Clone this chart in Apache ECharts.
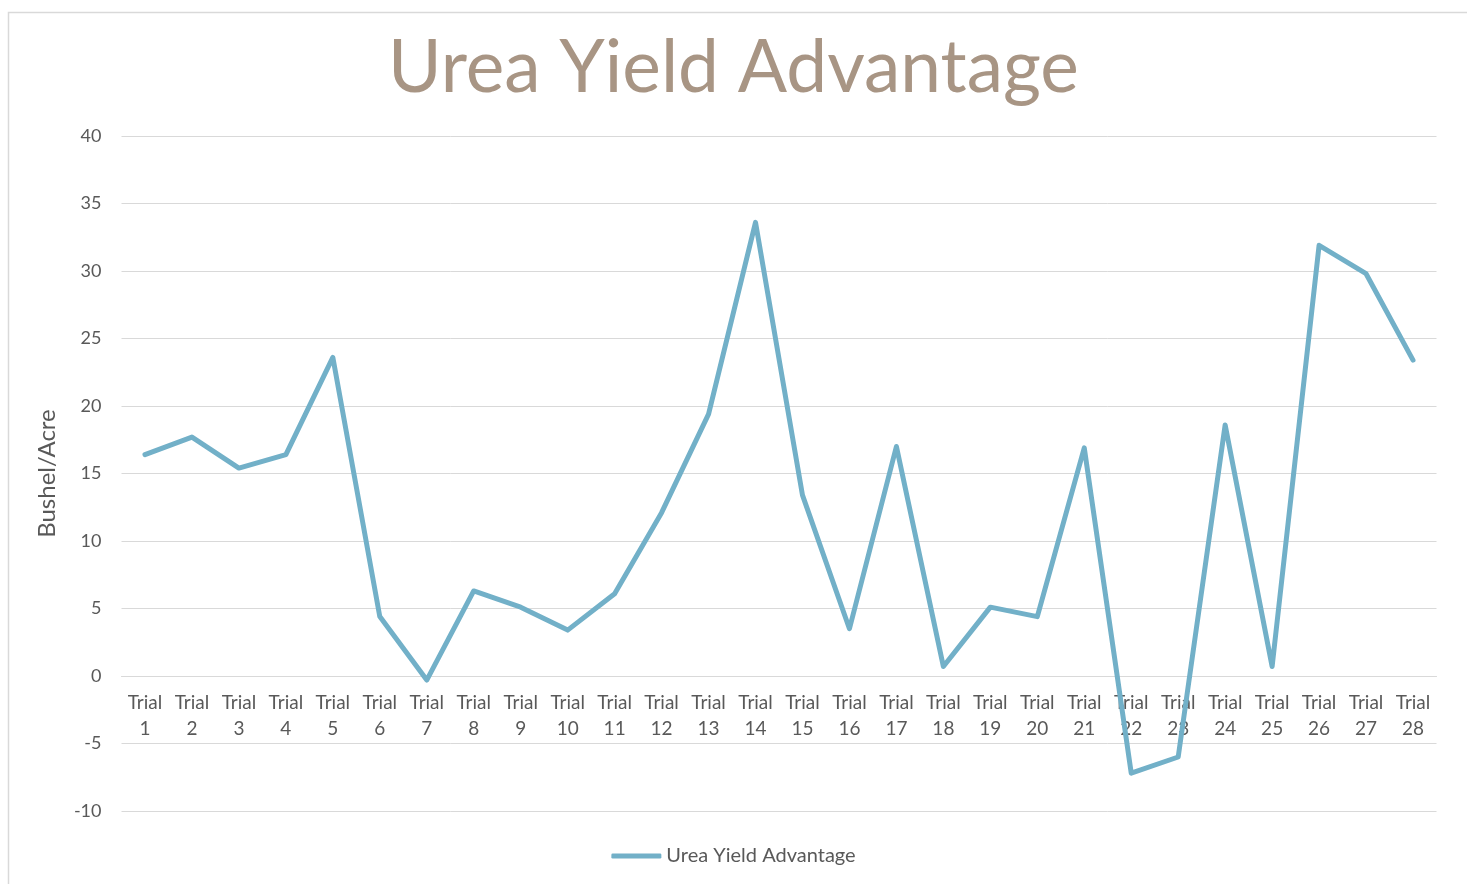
<!DOCTYPE html>
<html>
<head>
<meta charset="utf-8">
<script src="https://cdn.jsdelivr.net/npm/echarts@6/dist/echarts.min.js"></script>
<style>
html,body{margin:0;padding:0;background:#fff;}
#chart{width:1467px;height:884px;}
</style>
</head>
<body>
<div id="chart"></div>
<script>
const categories = ["Trial\n1","Trial\n2","Trial\n3","Trial\n4","Trial\n5","Trial\n6","Trial\n7","Trial\n8","Trial\n9","Trial\n10","Trial\n11","Trial\n12","Trial\n13","Trial\n14","Trial\n15","Trial\n16","Trial\n17","Trial\n18","Trial\n19","Trial\n20","Trial\n21","Trial\n22","Trial\n23","Trial\n24","Trial\n25","Trial\n26","Trial\n27","Trial\n28"];
const ureaYieldAdvantage = [16.4,17.7,15.4,16.4,23.6,4.4,-0.3,6.3,5.1,3.4,6.1,12.1,19.4,33.6,13.4,3.5,17.0,0.7,5.1,4.4,16.9,-7.2,-6.0,18.6,0.7,31.9,29.8,23.4];
const yTickMin = -10, yTickMax = 40, yTickStep = 5;
const seriesName = "Urea Yield Advantage";
const chartTitle = "Urea Yield Advantage";
const yAxisName = "Bushel/Acre";

const chart = echarts.init(document.getElementById('chart'), null, {renderer:'canvas'});
const font = 'Lato, "Open Sans", sans-serif';
const gridTop = 136, gridBottom = 73, chartH = 884;
// place the category axis at value 0 (Excel style "axis crosses at 0")
const plotH = chartH - gridTop - gridBottom;
const zeroOffset = -plotH * (0 - yTickMin) / (yTickMax - yTickMin);
chart.setOption({
  animation:false,
  backgroundColor:'#ffffff',
  graphic:[{type:'rect',left:6,top:10,shape:{width:1480,height:900},style:{fill:'none',stroke:'#d9d9d9',lineWidth:1.5},silent:true,z:-10}],
  title:{text:chartTitle,left:'center',top:27,textStyle:{fontFamily:font,fontSize:73,fontWeight:'normal',color:'#a89584'}},
  legend:{data:[seriesName],bottom:13,left:'center',icon:'roundRect',itemWidth:50,itemHeight:5,textStyle:{fontFamily:font,fontSize:20,color:'#595959'}},
  grid:{left:121.5,right:30.5,top:gridTop,bottom:gridBottom,containLabel:false},
  xAxis:{type:'category',data:categories,boundaryGap:true,position:'bottom',offset:zeroOffset,z:1,
    axisLine:{show:true,onZero:false,lineStyle:{color:'#d9d9d9',width:1}},
    axisTick:{show:false},
    axisLabel:{interval:0,margin:14,lineHeight:26,fontFamily:font,fontSize:19,color:'#595959'}},
  yAxis:{type:'value',min:yTickMin,max:yTickMax,interval:yTickStep,
    name:yAxisName,nameLocation:'middle',nameRotate:90,nameGap:62,
    nameTextStyle:{fontFamily:font,fontSize:24,color:'#595959'},
    axisLine:{show:false},axisTick:{show:false},
    axisLabel:{margin:20,fontFamily:font,fontSize:18,color:'#595959'},
    splitLine:{lineStyle:{color:'#d9d9d9',width:1}}},
  series:[{name:seriesName,type:'line',data:ureaYieldAdvantage,symbol:'none',z:5,
    lineStyle:{color:'#72b0c8',width:5,join:'round',cap:'round'},itemStyle:{color:'#72b0c8'}}]
});
</script>
</body>
</html>
